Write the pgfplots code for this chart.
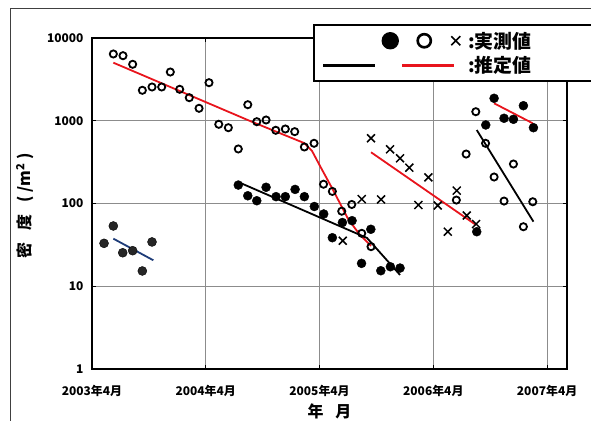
\documentclass[border=0pt]{standalone}
\usepackage{pgfplots}
\pgfplotsset{compat=1.18}
\usepackage{pgfplotstable}
\usepackage{fontspec}
\setmainfont{Noto Sans CJK JP}
\definecolor{myred}{RGB}{232,20,28}
\definecolor{mynavy}{RGB}{30,60,120}

\pgfplotstableread{
m v
1.27 33.0
2.25 53.5
3.24 25.4
4.29 26.9
5.31 15.3
6.33 34.3
}\dataA
\pgfplotstableread{
m v
2.25 6410
3.27 6110
4.29 4810
5.31 2333
6.33 2558
7.35 2558
8.26 3882
9.25 2399
10.26 1900
11.29 1414
12.34 2884
13.37 906
14.38 824
15.43 456
16.43 1563
17.38 974
18.36 1021
19.38 767
20.39 795
21.38 738
22.40 482
23.42 534
24.42 171
25.35 140
26.34 80.7
27.40 97.3
28.45 43.6
29.43 30.1
}\dataB
\pgfplotstableread{
m v
15.43 167
16.43 124
17.38 108
18.36 157
19.41 121
20.39 121
21.42 148
22.40 121
23.45 92
24.44 74.7
25.35 38.6
26.41 58.9
27.43 62
28.43 18.9
29.41 48.8
30.46 15.4
31.47 17.2
32.49 16.6
40.58 45.6
}\dataC
\pgfplotstableread{
m v
26.45 35.5
28.45 113
29.43 614
30.49 112
31.44 452
32.49 352
33.47 271
34.42 95.9
35.48 207
36.47 94.6
37.53 45.6
38.47 143
39.53 71.6
40.51 56.5
}\dataD
\pgfplotstableread{
m v
38.43 110
39.46 396
40.48 1286
41.51 534
42.41 209
43.46 107
44.45 300
45.50 52.4
46.49 105
}\dataF
\pgfplotstableread{
m v
41.53 889
42.41 1868
43.46 1071
44.45 1041
45.50 1520
46.56 824
}\dataG

\begin{document}
\begin{tikzpicture}
\useasboundingbox (0,0) rectangle (591bp,421bp);
\draw[line width=0.8bp, black!75] (10bp,0) -- (10bp,413bp) -- (591bp,413bp);
\begin{axis}[
  at={(92bp,52bp)}, anchor=south west,
  scale only axis, width=475bp, height=331bp,
  ymode=log, ymin=1, ymax=10000,
  xmin=0, xmax=50.1,
  xtick={0,12,24,36,48},
  xticklabels={2003年4月,2004年4月,2005年4月,2006年4月,2007年4月},
  ytick={1,10,100,1000,10000},
  yticklabels={1,10,100,1000,10000},
  yminorticks=false,
  grid=major,
  major grid style={line width=0.9bp, black!45},
  axis line style={line width=1.8bp, black},
  tick style={black, line width=0.8bp},
  major tick length=4bp,
  tick align=inside,
  tick label style={font=\fontsize{12}{14}\selectfont\bfseries},
  xticklabel style={yshift=-13bp},
  yticklabel style={xshift=-5bp},
  xlabel={年\hspace{0.75em}月},
  ylabel={密\hspace{0.75em}度\hspace{0.75em}( /m\textsuperscript{2} )},
  label style={font=\fontsize{16}{18}\selectfont\bfseries},
  xlabel style={at={(axis description cs:0.5,-0.127)}, anchor=center},
  ylabel style={at={(axis description cs:-0.141,0.4925)}, anchor=center},
  legend style={at={(axis description cs:0.4653,1.0423)}, anchor=north west,
    draw=black, line width=1.8bp, fill=white,
    inner xsep=8bp, inner ysep=7bp, row sep=7bp,
    font=\fontsize{19}{21}\selectfont\bfseries,
    nodes={inner sep=0pt},
    /tikz/every odd column/.append style={column sep=7bp}},
  legend cell align=left,
]
\addlegendimage{legend image code/.code={
  \path[draw=none] (0bp,0bp) -- (137bp,0bp);
  \fill[black] (67bp,0bp) circle (7.8bp);
  \draw[black, line width=2.6bp] (101bp,0bp) circle (6.6bp);
  \draw[black, line width=1.5bp] (128bp,-4.5bp) -- (137bp,4.5bp) (128bp,4.5bp) -- (137bp,-4.5bp);
}}
\addlegendentry{\makebox[118bp][l]{:実測値}}
\addlegendimage{legend image code/.code={
  \path[draw=none] (0bp,0bp) -- (137bp,0bp);
  \draw[black, line width=2.7bp] (0bp,0bp) -- (52bp,0bp);
  \draw[myred, line width=2.7bp] (79bp,0bp) -- (131bp,0bp);
}}
\addlegendentry{\makebox[118bp][l]{:推定値}}

\addplot[forget plot, only marks, mark=*, mark size=4.5bp, mark options={fill=black!85, draw=black}] table[x=m,y=v] {\dataA};
\addplot[forget plot, only marks, mark=o, mark size=3.6bp, mark options={draw=black, line width=1.8bp}] table[x=m,y=v] {\dataB};
\addplot[forget plot, only marks, mark=*, mark size=4.5bp, mark options={fill=black, draw=black}] table[x=m,y=v] {\dataC};
\addplot[forget plot, only marks, mark=x, mark size=5.6bp, mark options={draw=black, line width=1.5bp}] table[x=m,y=v] {\dataD};
\addplot[forget plot, only marks, mark=o, mark size=3.6bp, mark options={draw=black, line width=1.8bp}] table[x=m,y=v] {\dataF};
\addplot[forget plot, only marks, mark=*, mark size=4.5bp, mark options={fill=black, draw=black}] table[x=m,y=v] {\dataG};

\addplot[forget plot, mynavy, line width=1.8bp, no marks] coordinates {(2.25,37.6) (6.47,20.6)};
\addplot[forget plot, myred, line width=1.8bp, no marks] coordinates {(2.25,5032) (16.67,993) (22.37,538) (23.21,431) (24.05,284) (25.42,146) (27.01,65) (28.27,41.6) (29.43,30.7)};
\addplot[forget plot, black, line width=1.8bp, no marks] coordinates {(15.61,178) (29.01,38.3) (32.49,13.7)};
\addplot[forget plot, myred, line width=1.8bp, no marks] coordinates {(29.43,416) (40.51,55.0)};
\addplot[forget plot, black, line width=1.8bp, no marks] coordinates {(40.58,773) (46.56,60.3)};
\addplot[forget plot, myred, line width=1.8bp, no marks] coordinates {(42.41,1625) (46.49,931)};
\end{axis}
\end{tikzpicture}
\end{document}
